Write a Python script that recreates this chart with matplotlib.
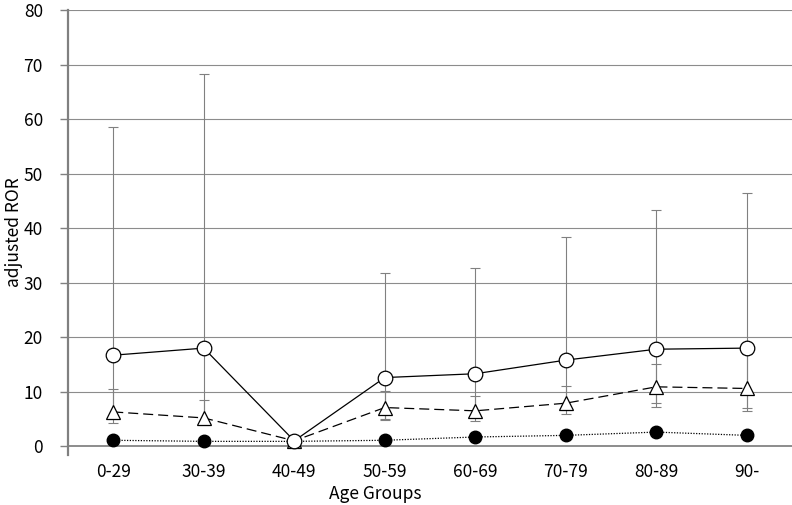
import matplotlib
matplotlib.use("Agg")
import matplotlib.pyplot as plt
import numpy as np

plt.rcParams['font.family'] = ['Noto Sans CJK JP', 'DejaVu Sans']

groups = ['0-29', '30-39', '40-49', '50-59', '60-69', '70-79', '80-89', '90-']

# open circles (solid line)
ror_a = [16.7, 18.0, 1.0, 12.6, 13.3, 15.8, 17.8, 18.0]
ror_a_hi = [58.5, 68.3, 1.0, 31.7, 32.7, 38.4, 43.3, 46.4]
ror_a_lo = [5.0, 4.6, 1.0, 5.0, 5.5, 6.6, 7.9, 7.0]

# open triangles (dashed line)
ror_b = [6.3, 5.2, 1.0, 7.1, 6.5, 7.9, 10.9, 10.6]
ror_b_hi = [10.5, 8.5, 1.0, 10.1, 9.2, 11.0, 15.0, 16.9]
ror_b_lo = [4.2, 3.9, 1.0, 4.8, 4.6, 6.0, 7.2, 6.4]

# filled circles (dotted line)
ror_c = [1.1, 0.9, 0.9, 1.1, 1.7, 2.0, 2.6, 2.0]

x = np.arange(len(groups))

fig = plt.figure(figsize=(7.92, 5.05), dpi=100)
ax = fig.add_axes([68 / 792, 1 - 455 / 505, 724 / 792, 445 / 505])

ebar_kw = dict(fmt='none', ecolor='#808080', elinewidth=0.8, capsize=3.5, capthick=0.8, zorder=2)

a = np.array(ror_a)
ax.errorbar(x, a, yerr=[a - np.array(ror_a_lo), np.array(ror_a_hi) - a], **ebar_kw)
b = np.array(ror_b)
ax.errorbar(x, b, yerr=[b - np.array(ror_b_lo), np.array(ror_b_hi) - b], **ebar_kw)

ax.plot(x, ror_c, color='black', linestyle=(0, (1, 1.2)), linewidth=0.9,
        marker='o', markersize=9, markerfacecolor='black', markeredgecolor='black', zorder=3)
ax.plot(x, ror_b, color='black', linestyle=(0, (8, 4)), linewidth=0.9,
        marker='^', markersize=10, markerfacecolor='white', markeredgecolor='black',
        markeredgewidth=0.9, zorder=4)
ax.plot(x, ror_a, color='black', linestyle='-', linewidth=0.9,
        marker='o', markersize=10.5, markerfacecolor='white', markeredgecolor='black',
        markeredgewidth=0.9, zorder=5)

ax.set_xlim(-0.5, len(groups) - 0.5)
ax.set_ylim(-1.6, 80)
ax.set_yticks(np.arange(0, 81, 10))
ax.set_xticks(x)
ax.set_xticklabels(groups, fontsize=12.5)
ax.tick_params(axis='x', length=0, pad=6)
ax.tick_params(axis='y', length=6, width=1, color='#808080', pad=12, labelsize=12.5)

for v in np.arange(0, 81, 10):
    ax.axhline(v, color='#8c8c8c', linewidth=1.4 if v == 0 else 0.8, zorder=1)

for side in ['top', 'right', 'bottom']:
    ax.spines[side].set_visible(False)
ax.spines['left'].set_color('#808080')
ax.spines['left'].set_linewidth(1.6)

fig.text(14 / 792, 1 - 232 / 505, 'adjusted ROR', rotation=90, fontsize=12.5,
         ha='center', va='center')
ax.set_xlabel('Age Groups', fontsize=12.5)
ax.xaxis.set_label_coords((375 - 68) / 724, -0.068)

fig.savefig('out.png', dpi=100)
